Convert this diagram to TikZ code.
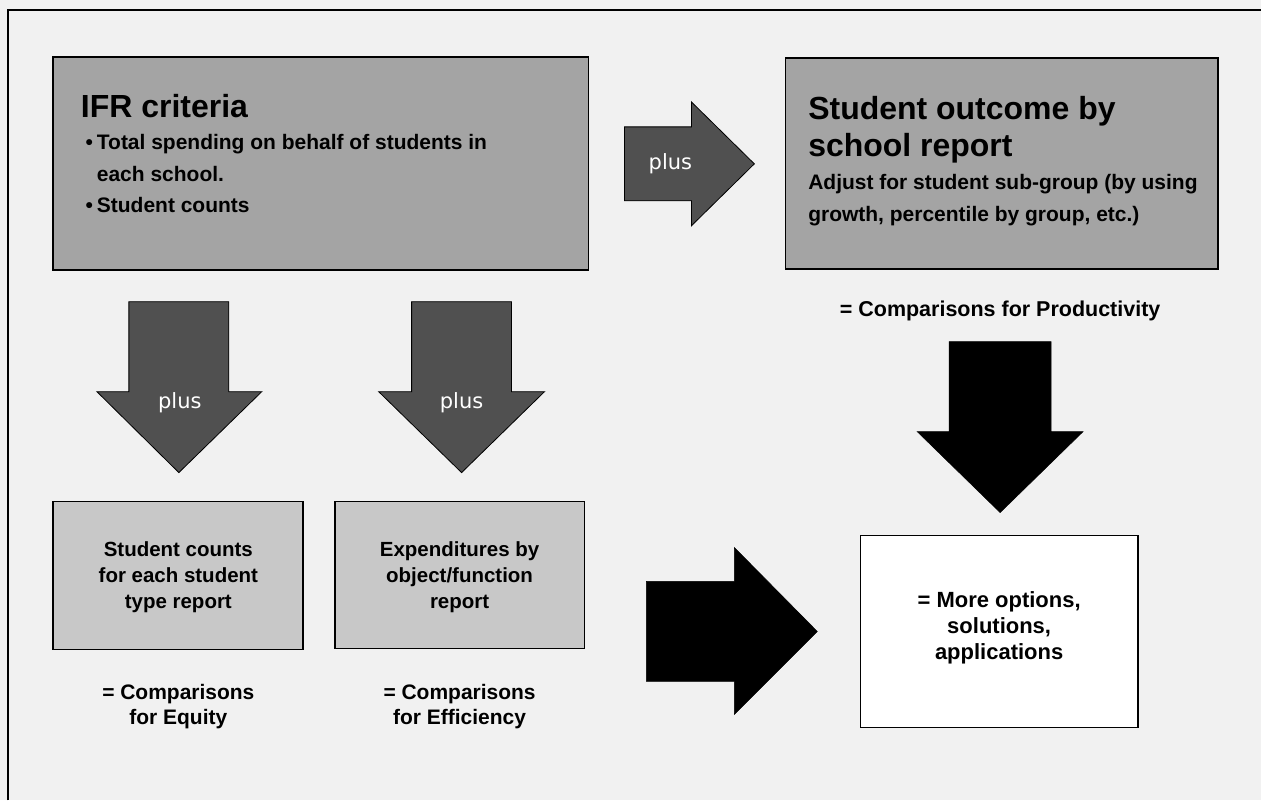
\documentclass[tikz,border=0pt]{standalone}
\usepackage{fontspec}
\setmainfont{Liberation Sans}
\newfontfamily\plusfont{DejaVu Sans}
\definecolor{pagebg}{HTML}{F1F1F1}
\definecolor{midbox}{HTML}{A4A4A4}
\definecolor{palebox}{HTML}{C8C8C8}
\definecolor{plusgray}{HTML}{505050}
\begin{document}
\begin{tikzpicture}[x=1pt,y=-1pt,
  reportbox/.style={draw=black, line width=1.6pt, inner sep=0pt},
  darkbox/.style={reportbox, fill=midbox},
  lightbox/.style={reportbox, fill=palebox},
  whitebox/.style={reportbox, fill=white, line width=1.3pt},
  txt/.style={inner sep=0pt, outer sep=0pt, text=black},
  title/.style={txt, anchor=base west, font=\bfseries\fontsize{32}{38}\selectfont},
  body/.style={txt, anchor=base west, font=\bfseries\fontsize{21}{26}\selectfont},
  ctext/.style={txt, anchor=base, font=\bfseries\fontsize{20.5}{25}\selectfont},
  result/.style={txt, anchor=base, font=\bfseries\fontsize{21}{25}\selectfont},
  pluslabel/.style={txt, anchor=base, text=white, font=\plusfont\fontsize{21}{25}\selectfont},
  grayarrow/.style={fill=plusgray, draw=black, line width=0.8pt, line join=miter},
  blackarrow/.style={fill=black, draw=black, line width=0.5pt, line join=miter}
]
% page background and frame
\fill[pagebg] (0,0) rectangle (1262,801);
\draw[line width=2.2pt] (8,801) -- (8,10) -- (1262,10);

% top left: IFR criteria
\node[darkbox, minimum width=536pt, minimum height=213pt] (ifr) at (321,163.5) {};
\node[title] (ifrtitle) at (81,118) {IFR criteria};
\node[body, anchor=base east] (dot1) at (93,150) {\textbullet};
\node[body] (ifr1) at (97,150) {Total spending on behalf of students in};
\node[body] (ifr2) at (97,182) {each school.};
\node[body, anchor=base east] (dot2) at (93,213) {\textbullet};
\node[body] (ifr3) at (97,213) {Student counts};

% top right: outcome report
\node[darkbox, minimum width=433pt, minimum height=211pt] (outc) at (1002.5,163.5) {};
\node[title] (outt1) at (809,120) {Student outcome by};
\node[title] (outt2) at (809,157) {school report};
\node[body] (outb1) at (809,190) {Adjust for student sub-group (by using};
\node[body] (outb2) at (809,222) {growth, percentile by group, etc.)};
\node[result, font=\bfseries\fontsize{21.5}{25}\selectfont] (prod) at (1001,317) {= Comparisons for Productivity};

% plus arrow to the right
\path[grayarrow] (625,127) -- (692,127) -- (692,102) -- (755,164) -- (692,226) -- (692,201) -- (625,201) -- cycle;
\node[pluslabel] (plusr) at (671,170) {plus};

% plus arrows pointing down
\path[grayarrow] (129,302) -- (229,302) -- (229,392) -- (262,392) -- (179,473) -- (97,392) -- (129,392) -- cycle;
\node[pluslabel] (plusa) at (180,409) {plus};
\path[grayarrow] (412,302) -- (512,302) -- (512,392) -- (545,392) -- (462,473) -- (379,392) -- (412,392) -- cycle;
\node[pluslabel] (plusb) at (462,409) {plus};

% lower report boxes
\node[lightbox, minimum width=250pt, minimum height=148pt] (counts) at (178,576) {};
\node[ctext] (c1) at (178.5,557) {Student counts};
\node[ctext] (c2) at (178.5,583) {for each student};
\node[ctext] (c3) at (178.5,609) {type report};
\node[lightbox, minimum width=250pt, minimum height=147pt] (expend) at (460,575.5) {};
\node[ctext] (e1) at (460,557) {Expenditures by};
\node[ctext] (e2) at (460,583) {object/function};
\node[ctext] (e3) at (460,609) {report};

\node[result] (eq1) at (178.5,700) {= Comparisons};
\node[result] (eq2) at (178.5,725) {for Equity};
\node[result] (ef1) at (460,700) {= Comparisons};
\node[result] (ef2) at (460,725) {for Efficiency};

% black arrows into the result
\path[blackarrow] (647,582) -- (735,582) -- (735,548) -- (818,632) -- (735,715) -- (735,682) -- (647,682) -- cycle;
\path[blackarrow] (950,342) -- (1052,342) -- (1052,432) -- (1084,432) -- (1001,513) -- (918,432) -- (950,432) -- cycle;

% result box
\node[whitebox, minimum width=278pt, minimum height=192pt] (more) at (1000,632) {};
\node[result, font=\bfseries\fontsize{22}{26}\selectfont] (m1) at (1000,608) {= More options,};
\node[result, font=\bfseries\fontsize{22}{26}\selectfont] (m2) at (1000,634) {solutions,};
\node[result, font=\bfseries\fontsize{22}{26}\selectfont] (m3) at (1000,660) {applications};
\end{tikzpicture}
\end{document}
